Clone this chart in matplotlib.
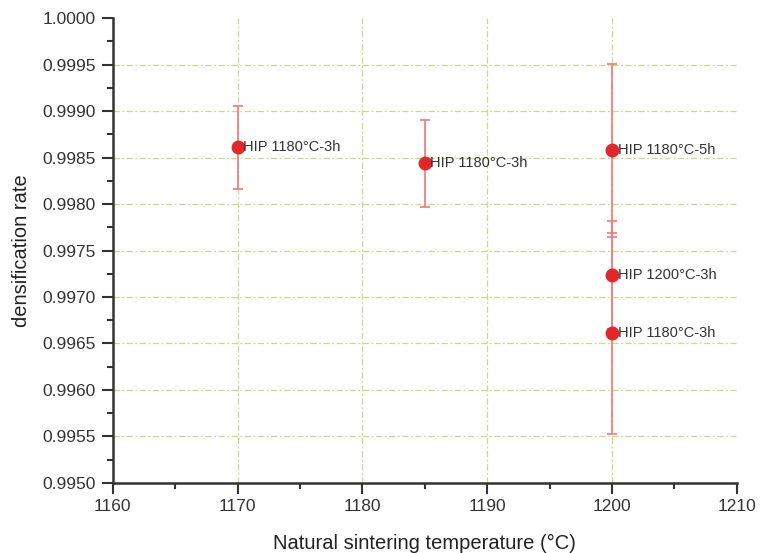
import matplotlib

matplotlib.use("Agg")
import matplotlib.pyplot as plt
from matplotlib.ticker import FormatStrFormatter, MultipleLocator

temps = [1170, 1185, 1200, 1200, 1200]
density = [0.99861, 0.99844, 0.99858, 0.99724, 0.99661]
errors = [0.00045, 0.00047, 0.00093, 0.00058, 0.00108]
labels = ["HIP 1180°C-3h", "HIP 1180°C-3h", "HIP 1180°C-5h", "HIP 1200°C-3h", "HIP 1180°C-3h"]

x_ticks = [1160, 1170, 1180, 1190, 1200, 1210]
y_ticks = [0.9950, 0.9955, 0.9960, 0.9965, 0.9970, 0.9975, 0.9980, 0.9985, 0.9990, 0.9995, 1.0000]

plt.rcParams["font.family"] = ["Liberation Sans", "DejaVu Sans"]

fig = plt.figure(figsize=(7.62, 5.53), dpi=100)
ax = fig.add_axes([0.148, 0.127, 0.819, 0.840])

grid_kw = dict(color="#cfd88a", linestyle=(0, (5, 2, 1.5, 2)), linewidth=0.9, zorder=0)
for xv in x_ticks[1:-1]:
    ax.axvline(xv, **grid_kw)
for yv in y_ticks[1:-1]:
    ax.axhline(yv, **grid_kw)

ax.errorbar(temps, density, yerr=errors, fmt="none", ecolor="#f28080",
            elinewidth=1.3, capsize=3.6, capthick=1.3, zorder=2)
ax.plot(temps, density, "o", color="#e3262a", markersize=9, zorder=3)
for x, y, lab in zip(temps, density, labels):
    ax.annotate(lab, (x, y), xytext=(4, 0), textcoords="offset points",
                ha="left", va="center", fontsize=10.5, color="#333333", zorder=4)

ax.set_xlim(x_ticks[0], x_ticks[-1])
ax.set_ylim(y_ticks[0], y_ticks[-1])
ax.set_xticks(x_ticks)
ax.set_yticks(y_ticks)
ax.xaxis.set_minor_locator(MultipleLocator(5))
ax.yaxis.set_minor_locator(MultipleLocator(0.00025))
ax.yaxis.set_major_formatter(FormatStrFormatter("%.4f"))

for side in ("top", "right"):
    ax.spines[side].set_visible(False)
for side in ("left", "bottom"):
    ax.spines[side].set_linewidth(1.8)
    ax.spines[side].set_color("#333333")

ax.tick_params(which="major", direction="out", length=8, width=1.5, color="#333333",
               labelsize=12.5, labelcolor="#333333", pad=4)
ax.tick_params(which="minor", direction="out", length=4, width=1.5, color="#333333")

ax.set_xlabel("Natural sintering temperature (°C)", fontsize=14.5, color="#222222", labelpad=14)
ax.set_ylabel("densification rate", fontsize=14.5, color="#222222", labelpad=8)

fig.savefig("out.png", dpi=100)
